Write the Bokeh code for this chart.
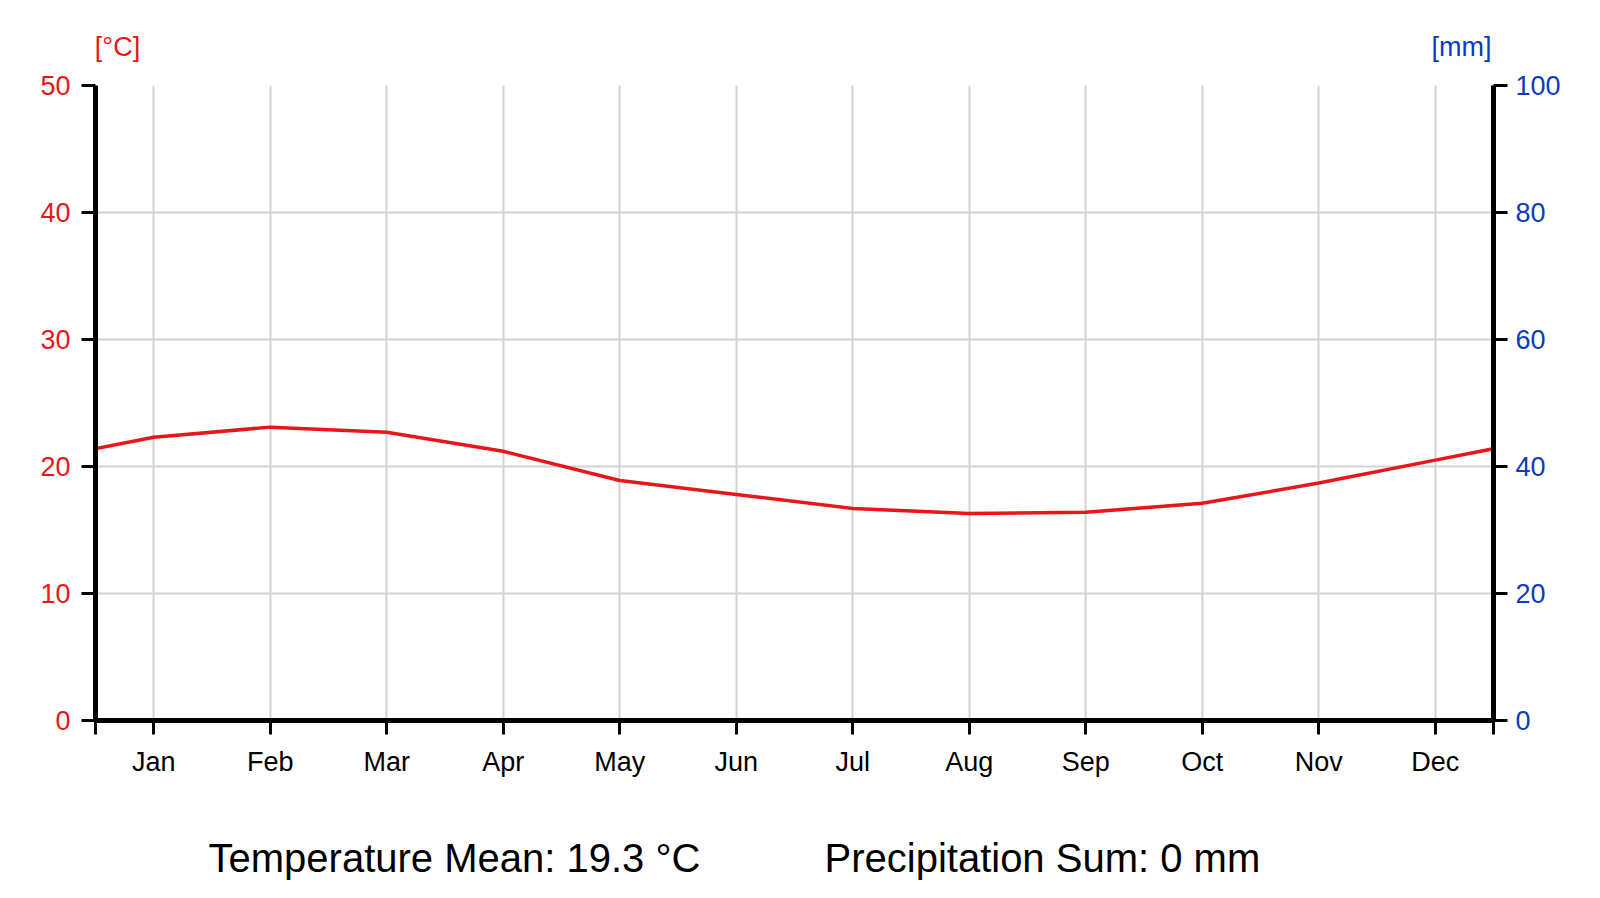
import numpy as np
from bokeh.plotting import figure
from bokeh.layouts import column
from bokeh.models import Range1d, LinearAxis, FixedTicker
from bokeh.core.properties import value
from bokeh.embed import file_html
from bokeh.resources import INLINE

months = ["Jan", "Feb", "Mar", "Apr", "May", "Jun", "Jul", "Aug", "Sep", "Oct", "Nov", "Dec"]
temperature = [22.3, 23.1, 22.7, 21.2, 18.9, 17.8, 16.7, 16.3, 16.4, 17.1, 18.7, 20.5]
precipitation = [0, 0, 0, 0, 0, 0, 0, 0, 0, 0, 0, 0]
temp_ticks = [0, 10, 20, 30, 40, 50]
precip_ticks = [0, 20, 40, 60, 80, 100]

RED = "#e8161b"
BLUE = "#0a3cbf"
FONT = "Liberation Sans"
W = 1600
BL, BR = 95, 107

month_pos = list(range(1, 13))


def blank_fig(h):
    f = figure(width=W, height=h, x_range=Range1d(0.5, 12.5), y_range=Range1d(0, h),
               output_backend="svg", toolbar_location=None,
               x_axis_type=None, y_axis_type=None,
               min_border_left=BL, min_border_right=BR, min_border_top=0, min_border_bottom=0)
    f.outline_line_color = None
    f.background_fill_color = "white"
    f.border_fill_color = "white"
    f.xgrid.visible = False
    f.ygrid.visible = False
    return f

# ---------- top strip: unit labels ----------
top = blank_fig(70)
top.text(x=[0.5], y=[24], text=["[°C]"], x_offset=22, text_align="center",
         text_baseline="middle", text_font=value(FONT), text_font_size="27px", text_color=RED)
top.text(x=[12.5], y=[24], text=["[mm]"], x_offset=-32, text_align="center",
         text_baseline="middle", text_font=value(FONT), text_font_size="27px", text_color=BLUE)

# ---------- main chart ----------
p = figure(width=W, height=710, x_range=Range1d(0.5, 12.5), y_range=Range1d(0, 50),
           output_backend="svg", toolbar_location=None,
           min_border_left=BL, min_border_right=BR, min_border_top=15, min_border_bottom=60)
p.outline_line_color = None
p.background_fill_color = "white"
p.border_fill_color = "white"

p.extra_y_ranges = {"precip": Range1d(0, 100)}

# precipitation bars (all zero)
p.vbar(x=month_pos, top=precipitation, width=0.8, y_range_name="precip",
       fill_color=BLUE, line_color=None)

# temperature line, wrapped cyclically at both ends and clipped by the frame
xs = [0] + month_pos + [13]
ys = [temperature[-1]] + temperature + [temperature[0]]
p.line(xs, ys, line_color=RED, line_width=3.5)


def style_axis(ax, color, standoff):
    ax.major_label_text_font = FONT
    ax.major_label_text_font_size = "27px"
    ax.major_label_text_color = color
    ax.major_label_standoff = standoff
    ax.axis_line_width = 5
    ax.axis_line_color = "black"
    ax.major_tick_line_width = 3
    ax.major_tick_line_color = "black"
    ax.major_tick_out = 14
    ax.major_tick_in = 0
    ax.minor_tick_line_color = None

xa = p.xaxis[0]
xa.ticker = FixedTicker(ticks=[0.5] + month_pos + [12.5])
overrides = {0.5: "", 12.5: ""}
for m, name in zip(month_pos, months):
    overrides[m] = name
xa.major_label_overrides = overrides
style_axis(xa, "black", 12)

ya = p.yaxis[0]
ya.ticker = FixedTicker(ticks=temp_ticks)
style_axis(ya, RED, 11)

ra = LinearAxis(y_range_name="precip", ticker=FixedTicker(ticks=precip_ticks))
style_axis(ra, BLUE, 8)
p.add_layout(ra, "right")

p.xgrid.ticker = FixedTicker(ticks=month_pos)
p.xgrid.grid_line_color = "#d3d3d3"
p.xgrid.grid_line_width = 2
p.ygrid.ticker = FixedTicker(ticks=temp_ticks)
p.ygrid.grid_line_color = "#d3d3d3"
p.ygrid.grid_line_width = 2

# ---------- bottom strip: summary ----------
t_mean = np.mean(temperature)
p_sum = sum(precipitation)
bot = blank_fig(118)
bot.text(x=[0.5], y=[41], text=[f"Temperature Mean: {t_mean:.1f} °C"], x_offset=113,
         text_align="left", text_baseline="middle", text_font=value(FONT),
         text_font_size="40px", text_color="black")
bot.text(x=[0.5], y=[41], text=[f"Precipitation Sum: {p_sum:g} mm"], x_offset=729,
         text_align="left", text_baseline="middle", text_font=value(FONT),
         text_font_size="40px", text_color="black")

layout = column(top, p, bot, spacing=0)
open("out.html", "w").write(file_html(layout, INLINE))
